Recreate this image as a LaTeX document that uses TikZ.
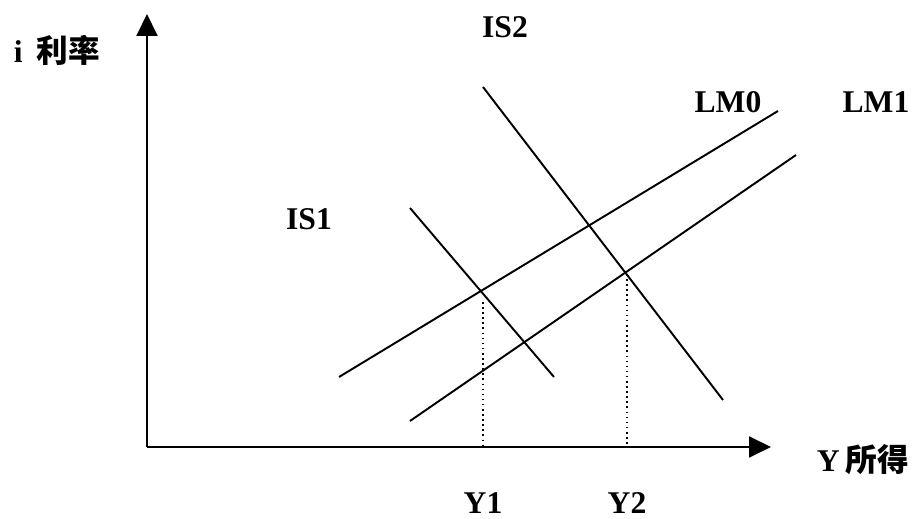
\documentclass[tikz,border=0pt]{standalone}
\usepackage{fontspec}
\setmainfont{Liberation Serif}
\newfontfamily\cjk{Noto Sans CJK SC}
\usetikzlibrary{arrows.meta}

\begin{document}
\begin{tikzpicture}[x=0.02cm,y=-0.02cm,every node/.style={font=\fontsize{18}{20}\selectfont\bfseries},curve/.style={line width=1.1pt},guide/.style={line width=0.9pt,dotted},axis/.style={line width=1.1pt,-{Triangle[length=0.44cm,width=0.42cm]}}]
\useasboundingbox (0,0) rectangle (914,519);
% axes
\coordinate (O) at (147,447);
\coordinate (ytop) at (147,14);
\coordinate (xend) at (771,447);
\draw[axis](O)--(ytop);
\draw[axis](O)--(xend);
\node(ilabel) at (57,50){i\hspace{0.45em}{\cjk 利率}};
\node(ylabel) at (863,460){Y\hspace{0.2em}{\cjk 所得}};
% curves
\coordinate (lm0a) at (339,377);\coordinate (lm0b) at (778,111);
\coordinate (lm1a) at (410,421);\coordinate (lm1b) at (796,155);
\coordinate (is1a) at (410,208);\coordinate (is1b) at (554,377);
\coordinate (is2a) at (483,87);\coordinate (is2b) at (723,400);
\draw[curve](lm0a)--(lm0b);\draw[curve](lm1a)--(lm1b);\draw[curve](is1a)--(is1b);\draw[curve](is2a)--(is2b);
\node(lm0) at (728,102){LM0};
\node(lm1) at (876,102){LM1};
\node(is1) at (309,219){IS1};
\node(is2) at (505,27){IS2};
% output levels
\coordinate (e1) at (483,302);\coordinate (y1) at (483,447);
\coordinate (e2) at (627,274);\coordinate (y2) at (627,447);
\draw[guide](e1)--(y1);\draw[guide](e2)--(y2);
\node(y1label) at (483,503){Y1};
\node(y2label) at (627,503){Y2};
\end{tikzpicture}
\end{document}
